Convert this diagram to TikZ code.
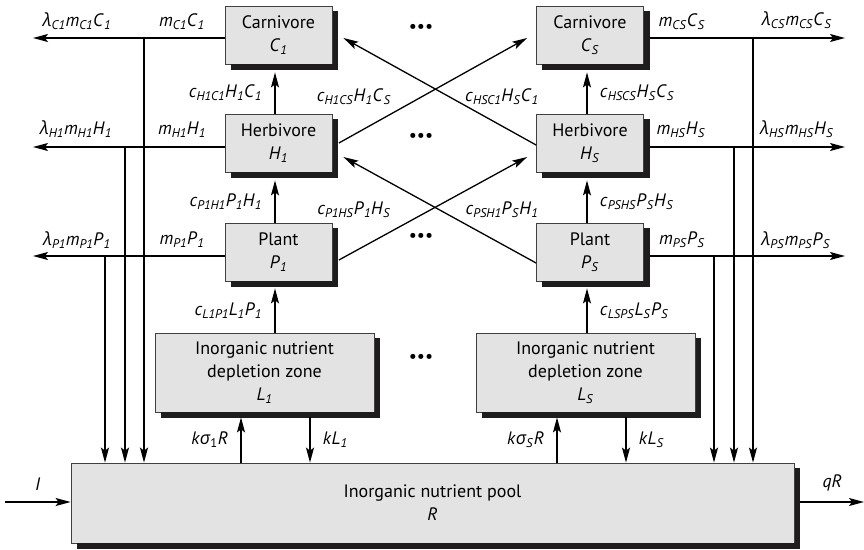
\documentclass[tikz,border=0pt]{standalone}
\usepackage{fontspec}
\setmainfont{PT Sans}
\newfontfamily\grkfont{Open Sans}
\usetikzlibrary{arrows.meta}
\definecolor{shadowcol}{RGB}{30,28,29}
\newcommand{\vn}[2]{\textit{#1}\textsubscript{\textit{#2}}}
\newcommand{\lam}{{\grkfont\itshape λ}}
\newcommand{\sig}{{\grkfont\itshape σ}}

\begin{document}
\begin{tikzpicture}[x=1pt,y=-1pt,
  font=\fontsize{18}{23}\selectfont,
  box/.style={draw=black!75, line width=0.8pt, fill=black!11, align=center,
    inner sep=0pt, minimum width=107pt, minimum height=58pt},
  wide/.style={minimum width=219pt, minimum height=79pt},
  rim/.style={draw=shadowcol, line width=5.5pt, line join=miter},
  flow/.style={line width=1.3pt, -{Stealth[length=15pt,width=8pt,inset=3pt]}},
  lbl/.style={inner sep=0pt}]
  \useasboundingbox (0,0) rectangle (864,549);
  % boxes
  \node[box] (C1) at (278.5,35) {Carnivore\\\vn{C}{1}};
  \node[box] (H1) at (278.5,143) {Herbivore\\\vn{H}{1}};
  \node[box] (P1) at (278.5,252) {Plant\\\vn{P}{1}};
  \node[box] (CS) at (590,35) {Carnivore\\\vn{C}{S}};
  \node[box] (HS) at (590,143) {Herbivore\\\vn{H}{S}};
  \node[box] (PS) at (590,252) {Plant\\\vn{P}{S}};
  \node[box, wide] (L1) at (264.5,372.5) {Inorganic nutrient\\depletion zone\\\vn{L}{1}};
  \node[box, wide] (LS) at (585.5,372.5) {Inorganic nutrient\\depletion zone\\\vn{L}{S}};
  \node[box, minimum width=723pt, minimum height=80pt] (R) at (432.5,503)
    {Inorganic nutrient pool\\\textit{R}};
  % shadows along the right side and the bottom
  \draw[rim] ([xshift=3pt,yshift=-5pt]C1.north east) |- ([xshift=6pt,yshift=-2.75pt]C1.south west);
  \draw[rim] ([xshift=3pt,yshift=-5pt]H1.north east) |- ([xshift=6pt,yshift=-2.75pt]H1.south west);
  \draw[rim] ([xshift=3pt,yshift=-5pt]P1.north east) |- ([xshift=6pt,yshift=-2.75pt]P1.south west);
  \draw[rim] ([xshift=3pt,yshift=-5pt]CS.north east) |- ([xshift=6pt,yshift=-2.75pt]CS.south west);
  \draw[rim] ([xshift=3pt,yshift=-5pt]HS.north east) |- ([xshift=6pt,yshift=-2.75pt]HS.south west);
  \draw[rim] ([xshift=3pt,yshift=-5pt]PS.north east) |- ([xshift=6pt,yshift=-2.75pt]PS.south west);
  \draw[rim] ([xshift=3pt,yshift=-5pt]L1.north east) |- ([xshift=6pt,yshift=-2.75pt]L1.south west);
  \draw[rim] ([xshift=3pt,yshift=-5pt]LS.north east) |- ([xshift=6pt,yshift=-2.75pt]LS.south west);
  \draw[rim] ([xshift=3pt,yshift=-5pt]R.north east) |- ([xshift=6pt,yshift=-2.75pt]R.south west);
  \node[lbl] (d1) at (421,28) {•••};
  \node[lbl] (d2) at (421,137) {•••};
  \node[lbl] (d3) at (421,237) {•••};
  \node[lbl] (d4) at (421,358) {•••};
  % free ends and branch points
  \coordinate (oC1) at (33,38);   \coordinate (bC1) at (144,38);
  \coordinate (oH1) at (33,147);  \coordinate (bH1) at (125,147);
  \coordinate (oP1) at (33,256);  \coordinate (bP1) at (105,256);
  \coordinate (oCS) at (845,38);  \coordinate (bCS) at (753,38);
  \coordinate (oHS) at (845,147); \coordinate (bHS) at (734,147);
  \coordinate (oPS) at (845,256); \coordinate (bPS) at (714,256);
  \coordinate (in) at (5,502);    \coordinate (out) at (864,502);
  % mortality, left
  \draw[flow] (C1.west |- oC1) -- (oC1);
  \draw[flow] (H1.west |- oH1) -- (oH1);
  \draw[flow] (P1.west |- oP1) -- (oP1);
  \draw[flow] (bC1) -- (bC1 |- R.north);
  \draw[flow] (bH1) -- (bH1 |- R.north);
  \draw[flow] (bP1) -- (bP1 |- R.north);
  % mortality, right
  \draw[flow] ([xshift=6pt]CS.east |- oCS) -- (oCS);
  \draw[flow] ([xshift=6pt]HS.east |- oHS) -- (oHS);
  \draw[flow] ([xshift=6pt]PS.east |- oPS) -- (oPS);
  \draw[flow] (bCS) -- (bCS |- R.north);
  \draw[flow] (bHS) -- (bHS |- R.north);
  \draw[flow] (bPS) -- (bPS |- R.north);
  % consumption
  \draw[flow] ([xshift=-3.5pt]H1.north) -- ([xshift=-3.5pt,yshift=-8pt]C1.south)
    node[midway,left=9pt] {\vn{c}{H1C1}\vn{H}{1}\vn{C}{1}};
  \draw[flow] ([xshift=-3.5pt]P1.north) -- ([xshift=-3.5pt,yshift=-8pt]H1.south)
    node[midway,left=9pt] {\vn{c}{P1H1}\vn{P}{1}\vn{H}{1}};
  \draw[flow] ([xshift=-3pt]CS.south |- HS.north) -- ([xshift=-3pt,yshift=-8pt]CS.south)
    node[midway,right=9pt] {\vn{c}{HSCS}\vn{H}{S}\vn{C}{S}};
  \draw[flow] ([xshift=-3pt]HS.south |- PS.north) -- ([xshift=-3pt,yshift=-8pt]HS.south)
    node[midway,right=9pt] {\vn{c}{PSHS}\vn{P}{S}\vn{H}{S}};
  \draw[flow] ([xshift=-3.5pt]P1.south |- L1.north) -- ([xshift=-3.5pt,yshift=-7pt]P1.south)
    node[midway,left=9pt] {\vn{c}{L1P1}\vn{L}{1}\vn{P}{1}};
  \draw[flow] ([xshift=-3pt]PS.south |- LS.north) -- ([xshift=-3pt,yshift=-7pt]PS.south)
    node[midway,right=9pt] {\vn{c}{LSPS}\vn{L}{S}\vn{P}{S}};
  \draw[flow] ([xshift=6.5pt]H1.east) -- ([xshift=-9pt,yshift=-3pt]CS.west);
  \draw[flow] ([yshift=-2pt]HS.west) -- ([xshift=11pt,yshift=-3pt]C1.east);
  \draw[flow] ([xshift=6.5pt,yshift=-8pt]P1.east) -- ([xshift=-9pt,yshift=-14pt]HS.west);
  \draw[flow] ([yshift=-11pt]PS.west) -- ([xshift=11pt,yshift=-14pt]H1.east);
  % exchange with the pool
  \draw[flow] ([xshift=-23.5pt]L1.south |- R.north) -- ([xshift=-23.5pt,yshift=-5pt]L1.south)
    node[midway,left=9pt] {\textit{k}\sig\textsubscript{1}\textit{R}};
  \draw[flow] ([xshift=45.5pt,yshift=-5pt]L1.south) -- ([xshift=45.5pt]L1.south |- R.north)
    node[midway,right=9pt] {\textit{k}\vn{L}{1}};
  \draw[flow] ([xshift=-28.5pt]LS.south |- R.north) -- ([xshift=-28.5pt,yshift=-5pt]LS.south)
    node[midway,left=9pt] {\textit{k}\sig\textsubscript{\textit{S}}\textit{R}};
  \draw[flow] ([xshift=40.5pt,yshift=-5pt]LS.south) -- ([xshift=40.5pt]LS.south |- R.north)
    node[midway,right=9pt] {\textit{k}\vn{L}{S}};
  \draw[flow] (in) -- (R.west |- in) node[midway,above=8pt] {\textit{I}};
  \draw[flow] ([xshift=6pt]R.east |- out) -- (out) node[midway,above=7pt] {\textit{qR}};
  % labels on the mortality lines
  \node[lbl] (lC1) at (77,21) {\lam\textsubscript{\textit{C1}}\vn{m}{C1}\vn{C}{1}};
  \node[lbl] (mC1) at (182,22) {\vn{m}{C1}\vn{C}{1}};
  \node[lbl] (lH1) at (76,129) {\lam\textsubscript{\textit{H1}}\vn{m}{H1}\vn{H}{1}};
  \node[lbl] (mH1) at (182,130) {\vn{m}{H1}\vn{H}{1}};
  \node[lbl] (lP1) at (77,240) {\lam\textsubscript{\textit{P1}}\vn{m}{P1}\vn{P}{1}};
  \node[lbl] (mP1) at (182,240) {\vn{m}{P1}\vn{P}{1}};
  \node[lbl] (lCS) at (797,20) {\lam\textsubscript{\textit{CS}}\vn{m}{CS}\vn{C}{S}};
  \node[lbl] (mCS) at (682,22) {\vn{m}{CS}\vn{C}{S}};
  \node[lbl] (lHS) at (797,129) {\lam\textsubscript{\textit{HS}}\vn{m}{HS}\vn{H}{S}};
  \node[lbl] (mHS) at (681,130) {\vn{m}{HS}\vn{H}{S}};
  \node[lbl] (lPS) at (796,240) {\lam\textsubscript{\textit{PS}}\vn{m}{PS}\vn{P}{S}};
  \node[lbl] (mPS) at (682,240) {\vn{m}{PS}\vn{P}{S}};
  % labels on the crossing flows
  \node[lbl] (xH1CS) at (354,97) {\vn{c}{H1CS}\vn{H}{1}\vn{C}{S}};
  \node[lbl] (xHSC1) at (502,97) {\vn{c}{HSC1}\vn{H}{S}\vn{C}{1}};
  \node[lbl] (xP1HS) at (354,210) {\vn{c}{P1HS}\vn{P}{1}\vn{H}{S}};
  \node[lbl] (xPSH1) at (502,210) {\vn{c}{PSH1}\vn{P}{S}\vn{H}{1}};
\end{tikzpicture}
\end{document}
